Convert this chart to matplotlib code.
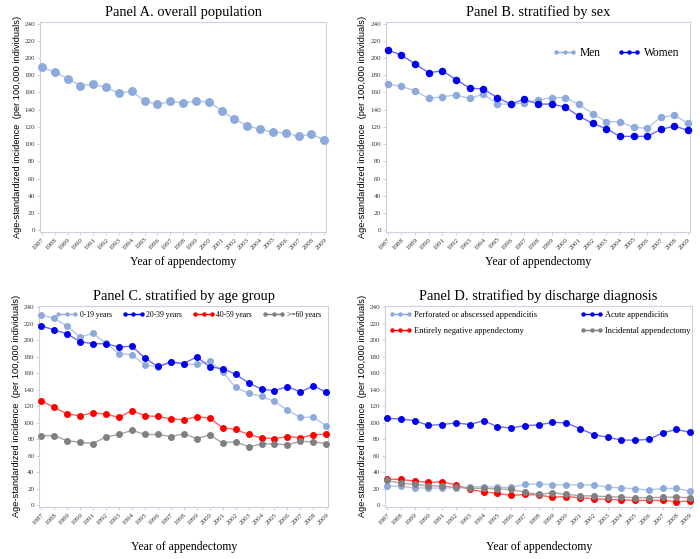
import numpy as np
import matplotlib.pyplot as plt

years = np.arange(1987, 2010)
year_labels = [str(y) for y in years]

overall = [189, 184, 176, 168, 169.5, 166, 159, 161.5, 150, 146, 149.5, 148, 150, 149,
           139, 129, 121.5, 117, 114, 113, 109, 111.5, 105]

men = [170, 167, 162, 153, 155, 157, 153, 158, 147, 146, 148, 151, 154, 154,
       146, 135.5, 126, 126, 119.5, 118.5, 131, 133.5, 124]
women = [209, 203.5, 193, 183, 185, 175, 165, 164, 154, 146.5, 152, 146.5, 146.5, 143,
         132.5, 124, 118, 109, 109, 109, 117, 121, 116]

age_0_19 = [231, 226.6, 217.6, 204, 208.5, 196.5, 184, 182.7, 170.5, 167.6, 173.3, 171, 171, 175,
            162, 143, 136, 132, 126, 115.5, 106.6, 107, 96.4]
age_20_39 = [217.6, 212.8, 208, 198.5, 196, 196, 192, 193, 178.6, 168.4, 174, 172, 180, 168,
             165.6, 159, 148.5, 141, 139, 144, 137.5, 145, 137]
age_40_59 = [127, 118.8, 111, 108.6, 112.3, 110.6, 106.6, 115, 108.6, 107.8, 105, 104, 107.4, 105.8,
             94, 92, 86, 81.8, 81, 83.4, 82, 85.4, 86.7]
age_60 = [84.6, 84.6, 78.5, 76.5, 75, 83, 86, 91, 86, 86, 83.4, 86.7, 81, 85.4,
          75.7, 77.3, 70.8, 74.5, 74.5, 73.6, 77.7, 77, 75]

perforated = [23.4, 23, 21.3, 21, 21, 21.3, 22.5, 22.5, 22, 21.7, 25.4, 26, 25, 25,
              25, 24.5, 22, 21.3, 20, 18.5, 20.5, 20.5, 17.3]
acute = [105.5, 104.7, 102.7, 97, 98, 100, 98, 102.7, 95.4, 93.8, 96.7, 97.5, 100.7, 100,
         93, 85.8, 82.6, 79.3, 79, 80, 88, 92, 88.6]
negative = [31.8, 31.4, 29.4, 27.8, 28.6, 24.6, 19.3, 16.5, 14.5, 12, 13.3, 12.5, 10, 10.5,
            9.3, 8, 7.2, 6.8, 6, 6, 6, 4.4, 5.2]
incidental = [30.2, 27, 25.4, 23.8, 23.4, 21.7, 21, 20.5, 20, 19.3, 16, 13.3, 15.3, 13.3,
              11.7, 11.3, 10.5, 10, 9.3, 9.3, 9.7, 10, 9.3]

LIGHT = ('#8eaadb', '#b3c6ea')
BLUE = ('#0000ee', '#6b6bf2')
RED = ('#ff0000', '#ff6060')
GREY = ('#808080', '#a6a6a6')

serif = 'Liberation Serif'
sans = 'Liberation Sans'

fig = plt.figure(figsize=(7, 5.59), dpi=100)


def series(ax, y, col, label, ms):
    ax.plot(years, y, '-', color=col[1], lw=1.0, zorder=2, clip_on=False)
    ax.plot(years, y, 'o', color=col[0], ms=ms, zorder=3, clip_on=False)
    # legend proxy: small dots with line
    ax.plot([], [], '-o', color=col[0], ms=2.2, lw=1.0, label=label)


def setup(ax, title, xlabel_pad):
    ax.set_xlim(1986.85, 2009.15)
    ax.set_ylim(-2, 242)
    ax.set_yticks(np.arange(0, 241, 20))
    ax.set_xticks(years)
    ax.set_xticklabels(year_labels, rotation=45, ha='right', rotation_mode='anchor')
    ax.tick_params(labelsize=5, length=2, width=0.5, color='#b8c2d6', pad=1.5)
    for lab in ax.get_xticklabels() + ax.get_yticklabels():
        lab.set_family(serif)
        lab.set_color('#333333')
    for s in ax.spines.values():
        s.set_color('#c9d2e3')
        s.set_linewidth(0.8)
    ax.set_title(title, family=serif, fontsize=10.4, pad=4)
    ax.set_xlabel('Year of appendectomy', family=serif, fontsize=8.5, labelpad=xlabel_pad)
    ax.set_ylabel('Age-standardized incidence  (per 100,000 individuals)', family=sans,
                  fontsize=6.7, labelpad=2)


axA = fig.add_axes([0.057, 0.585, 0.409, 0.376])
series(axA, overall, LIGHT, None, 5.4)
setup(axA, 'Panel A. overall population', 4)

axB = fig.add_axes([0.551, 0.585, 0.435, 0.376])
series(axB, men, LIGHT, 'Men', 4.4)
series(axB, women, BLUE, 'Women', 4.4)
setup(axB, 'Panel B. stratified by sex', 4)
axB.legend(loc='upper right', ncol=2, frameon=False, prop={'family': serif, 'size': 8.3},
           handlelength=2.0, handletextpad=0.3, columnspacing=1.5, numpoints=3,
           bbox_to_anchor=(1.0, 0.93))

axC = fig.add_axes([0.056, 0.093, 0.413, 0.36])
series(axC, age_0_19, LIGHT, '0-19 years', 4.0)
series(axC, age_20_39, BLUE, '20-39 years', 4.0)
series(axC, age_40_59, RED, '40-59 years', 4.0)
series(axC, age_60, GREY, '>=60 years', 4.0)
setup(axC, 'Panel C. stratified by age group', 11)
axC.legend(loc='upper left', ncol=4, frameon=False, prop={'family': serif, 'size': 5.5},
           handlelength=2.8, handletextpad=0.3, columnspacing=1.4, numpoints=3,
           bbox_to_anchor=(0.035, 1.01))

axD = fig.add_axes([0.55, 0.093, 0.439, 0.36])
series(axD, perforated, LIGHT, 'Perforated or abscessed appendicitis', 4.0)
series(axD, negative, RED, 'Entirely negative appendectomy', 4.0)
series(axD, acute, BLUE, 'Acute appendicitis', 4.0)
series(axD, incidental, GREY, 'Incidental appendectomy', 4.0)
setup(axD, 'Panel D. stratified by discharge diagnosis', 11)
axD.legend(loc='upper left', ncol=2, frameon=False, prop={'family': serif, 'size': 6},
           handlelength=2.6, handletextpad=0.3, columnspacing=5.3, numpoints=3,
           labelspacing=0.9, bbox_to_anchor=(-0.01, 1.01))

fig.savefig('out.png', dpi=100)
